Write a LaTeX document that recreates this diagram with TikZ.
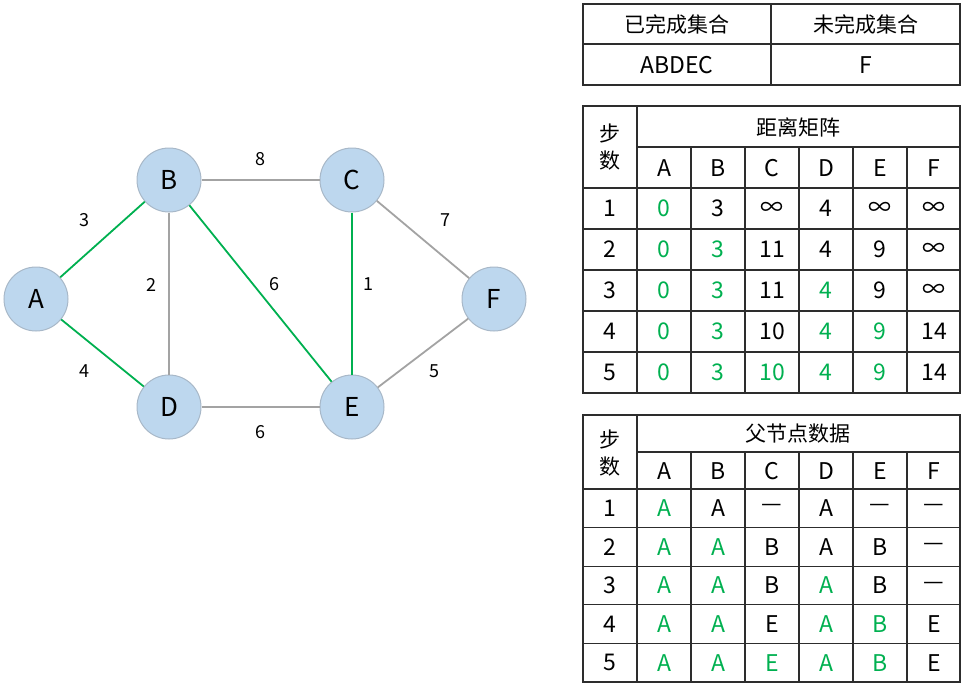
\documentclass[tikz,border=0pt]{standalone}
\usepackage{fontspec}
\setmainfont{Noto Sans CJK SC}
\usetikzlibrary{positioning}
\definecolor{passgreen}{RGB}{0, 176, 80}
\definecolor{vertexblue}{RGB}{189, 215, 238}
\definecolor{vertexline}{RGB}{168, 184, 200}
\definecolor{edgegray}{RGB}{163, 163, 163}
\definecolor{gridgray}{RGB}{45, 45, 45}

\begin{document}
\begin{tikzpicture}[x=1pt, y=-1pt,
        vertex/.style={circle, fill=vertexblue, draw=vertexline, line width=1pt, minimum size=64pt, inner sep=0pt, font=\fontsize{26}{30}\selectfont},
        weight/.style={font=\fontsize{18}{21}\selectfont},
        plain edge/.style={edgegray, line width=1.8pt},
        tree edge/.style={passgreen, line width=1.8pt},
        grid/.style={gridgray, line width=1.3pt},
        cell/.style={font=\fontsize{23}{26}\selectfont, inner sep=0pt},
        done/.style={cell, text=passgreen},
        todo/.style={cell},
        hanzi/.style={font=\fontsize{21}{27}\selectfont, inner sep=0pt, align=center}]

    \useasboundingbox (0,0) rectangle (965,686);

    % vertices
    \node[vertex] (A) at (36, 299) {A};
    \node[vertex] (B) at (169, 180) {B};
    \node[vertex] (C) at (352, 180) {C};
    \node[vertex] (D) at (169, 407) {D};
    \node[vertex] (E) at (352, 407) {E};
    \node[vertex] (F) at (494, 299) {F};

    % edges not in the tree
    \path
        (B) edge[plain edge] (C)
        (B) edge[plain edge] (D)
        (C) edge[plain edge] (F)
        (D) edge[plain edge] (E)
        (E) edge[plain edge] (F);

    % shortest path tree
    \path
        (A) edge[tree edge] (B)
        (A) edge[tree edge] (D)
        (B) edge[tree edge] (E)
        (C) edge[tree edge] (E);

    % weights
    \node[weight] (w-ab) at (84, 220) {3};
    \node[weight] (w-ad) at (84, 371) {4};
    \node[weight] (w-bd) at (151, 285) {2};
    \node[weight] (w-bc) at (260, 159) {8};
    \node[weight] (w-be) at (274, 284) {6};
    \node[weight] (w-ce) at (368, 284) {1};
    \node[weight] (w-cf) at (445, 220) {7};
    \node[weight] (w-ef) at (434, 371) {5};
    \node[weight] (w-de) at (260, 432) {6};

    % finished / unfinished sets
    \draw[grid] (583, 4) rectangle (960, 85);
    \draw[grid] (771, 4) -- (771, 85);
    \draw[grid] (583, 44) -- (960, 44);
    \node[hanzi] (set-done) at (677, 24) {已完成集合};
    \node[hanzi] (set-todo) at (866, 24) {未完成集合};
    \node[todo] (set-done-list) at (677, 65) {ABDEC};
    \node[todo] (set-todo-list) at (866, 65) {F};

    % distance matrix
    \draw[grid] (583, 106) rectangle (960, 393);
    \draw[grid] (637, 106) -- (637, 393);
    \draw[grid] (637, 147) -- (960, 147);
    \foreach \x in {691, 745, 799, 853, 907}
        \draw[grid] (\x, 147) -- (\x, 393);
    \foreach \y in {188, 229, 270, 311, 352}
        \draw[grid] (583, \y) -- (960, \y);
    \node[hanzi] (dist-step) at (610, 147) {步\\数};
    \node[hanzi] (dist-title) at (798, 127) {距离矩阵};
    \foreach \v [count=\c] in {A, B, C, D, E, F}
        \node[todo] (dist-head-\c) at ({610+54*\c}, 168) {\v};
    \foreach \vals [count=\r] in {
        {done/0, todo/3, todo/∞, todo/4, todo/∞, todo/∞},
        {done/0, done/3, todo/11, todo/4, todo/9, todo/∞},
        {done/0, done/3, todo/11, done/4, todo/9, todo/∞},
        {done/0, done/3, todo/10, done/4, done/9, todo/14},
        {done/0, done/3, done/10, done/4, done/9, todo/14}} {
        \node[todo] (dist-step-\r) at (610, {167.5+41*\r}) {\r};
        \foreach \s/\v [count=\c] in \vals
            \node[\s] (dist-\r-\c) at ({610+54*\c}, {167.5+41*\r}) {\v};
    }

    % parent data
    \draw[grid] (583, 415) rectangle (960, 682);
    \draw[grid] (637, 415) -- (637, 682);
    \draw[grid] (637, 452) -- (960, 452);
    \foreach \x in {691, 745, 799, 853, 907}
        \draw[grid] (\x, 452) -- (\x, 682);
    \foreach \k in {1, ..., 5}
        \draw[grid] (583, {450.4+38.6*\k}) -- (960, {450.4+38.6*\k});
    \node[hanzi] (par-step) at (610, 453) {步\\数};
    \node[hanzi] (par-title) at (798, 434) {父节点数据};
    \foreach \v [count=\c] in {A, B, C, D, E, F}
        \node[todo] (par-head-\c) at ({610+54*\c}, 471) {\v};
    \foreach \vals [count=\r] in {
        {done/A, todo/A, todo/—, todo/A, todo/—, todo/—},
        {done/A, done/A, todo/B, todo/A, todo/B, todo/—},
        {done/A, done/A, todo/B, done/A, todo/B, todo/—},
        {done/A, done/A, todo/E, done/A, done/B, todo/E},
        {done/A, done/A, done/E, done/A, done/B, todo/E}} {
        \node[todo] (par-step-\r) at (610, {469.7+38.6*\r}) {\r};
        \foreach \s/\v [count=\c] in \vals
            \node[\s] (par-\r-\c) at ({610+54*\c}, {469.7+38.6*\r}) {\v};
    }

\end{tikzpicture}
\end{document}
